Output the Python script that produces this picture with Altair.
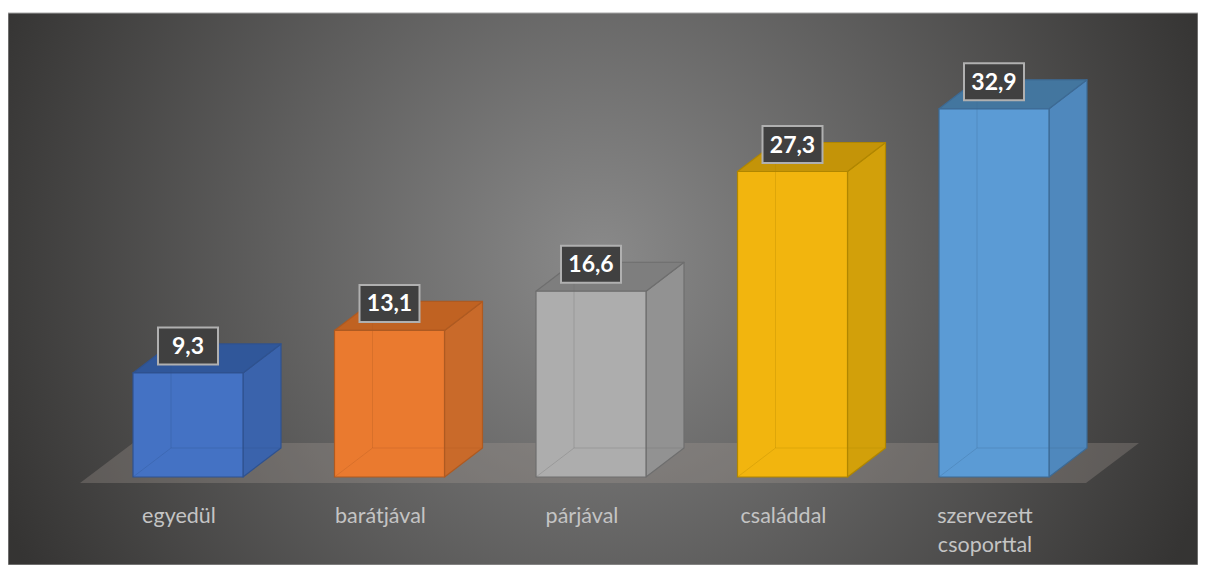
import altair as alt
import pandas as pd

# ---------------- data ----------------
categories = ["egyedül", "barátjával", "párjával", "családdal", "szervezett csoporttal"]
tick_labels = ["egyedül", "barátjával", "párjával", "családdal", "szervezett\ncsoporttal"]
values = [9.3, 13.1, 16.6, 27.3, 32.9]
value_labels = ["9,3", "13,1", "16,6", "27,3", "32,9"]

# ---------------- styles ----------------
front_colors = ["#4472c4", "#ea7a2f", "#adadad", "#f2b50e", "#5b9bd5"]
side_colors = ["#3a63ac", "#c96a2a", "#929292", "#d2a00a", "#4f88bd"]
top_colors = ["#30579a", "#c06222", "#7e7e7e", "#c49408", "#43769f"]
edge_colors = ["#2f528f", "#ae5a21", "#6e6e6e", "#b08600", "#3d6a94"]

W, H = 1190, 552
PX_CAT = 201.5   # pixels per category step
PX_VAL = 11.19   # pixels per value unit
X0_PX = 180.0    # first category centre inside the plot
Y0_PX = 464.0    # value 0 inside the plot

x_dom = [-X0_PX / PX_CAT, (W - X0_PX) / PX_CAT]
y_dom = [-(H - Y0_PX) / PX_VAL, Y0_PX / PX_VAL]
xs = alt.Scale(domain=x_dom, nice=False, zero=False)
ys = alt.Scale(domain=y_dom, nice=False, zero=False)

hw = 55 / PX_CAT
ddx = 38 / PX_CAT
ddy = 29 / PX_VAL
n = len(categories)

def cscale(rng):
    return alt.Scale(domain=categories, range=rng)

# front faces
front = pd.DataFrame({
    "cat": categories,
    "x0": [i - hw for i in range(n)],
    "x1": [i + hw for i in range(n)],
    "y0": [0.0] * n,
    "y1": values,
})

# side faces
side_rows = []
for i, (c, v) in enumerate(zip(categories, values)):
    side_rows.append({"cat": c, "x": i + hw, "lo": 0.0, "hi": v})
    side_rows.append({"cat": c, "x": i + hw + ddx, "lo": ddy, "hi": v + ddy})
side = pd.DataFrame(side_rows)

# top faces
top_rows = []
for i, (c, v) in enumerate(zip(categories, values)):
    top_rows.append({"cat": c, "y": v, "xl": i - hw, "xr": i + hw})
    top_rows.append({"cat": c, "y": v + ddy, "xl": i - hw + ddx, "xr": i + hw + ddx})
top = pd.DataFrame(top_rows)

# hidden back edges (seen through the translucent bars)
edge_rows = []
for i, (c, v) in enumerate(zip(categories, values)):
    bx = i - hw + ddx
    edge_rows.append({"cat": c, "x": bx, "y": ddy, "x2": bx, "y2": v + ddy})
    edge_rows.append({"cat": c, "x": bx, "y": ddy, "x2": i + hw + ddx, "y2": ddy})
    edge_rows.append({"cat": c, "x": i - hw, "y": 0.0, "x2": bx, "y2": ddy})
edges = pd.DataFrame(edge_rows)

# floor
f_front_y = -6 / PX_VAL
f_back_y = 34 / PX_VAL
f_left = -108 / PX_CAT
f_right = (n - 1) + 92 / PX_CAT
f_depth = 53 / PX_CAT
floor = pd.DataFrame({
    "y": [f_front_y, f_back_y],
    "xl": [f_left, f_left + f_depth],
    "xr": [f_right, f_right + f_depth],
})

# labels
lab_dx = -9 / PX_CAT
lab_y = -46 / PX_VAL
cat_labels = pd.DataFrame({
    "x": [i + lab_dx for i in range(n)],
    "y": [lab_y] * n,
    "t": tick_labels,
})

box_off = 27 / PX_VAL
box_hw = 30 / PX_CAT
box_hh = 18.5 / PX_VAL
boxes = pd.DataFrame({
    "x": list(range(n)),
    "x0": [i - box_hw for i in range(n)],
    "x1": [i + box_hw for i in range(n)],
    "yc": [v + box_off for v in values],
    "y0": [v + box_off - box_hh for v in values],
    "y1": [v + box_off + box_hh for v in values],
    "sx0": [i - box_hw + 3 / PX_CAT for i in range(n)],
    "sx1": [i + box_hw - 3 / PX_CAT for i in range(n)],
    "sy0": [v + box_off - box_hh - 8 / PX_VAL for v in values],
    "sy1": [v + box_off for v in values],
    "t": value_labels,
})

# ---------------- layers ----------------
bg = alt.Chart(pd.DataFrame({"a": [0]})).mark_rect(
    fill=alt.RadialGradient(
        gradient="radial",
        x1=0.497, y1=0.476, r1=0.0,
        x2=0.497, y2=0.476, r2=0.545,
        stops=[alt.GradientStop(offset=0, color="#8a8a8a"),
               alt.GradientStop(offset=1, color="#353433")],
    ),
    stroke="#a6a6a6", strokeWidth=1,
).encode(x=alt.value(0), x2=alt.value(W), y=alt.value(0), y2=alt.value(H))

floor_l = alt.Chart(floor).mark_area(orient="horizontal", color="#a59d96", opacity=0.3).encode(
    y=alt.Y("y:Q", scale=ys, axis=None),
    x=alt.X("xl:Q", scale=xs, axis=None),
    x2="xr:Q",
)

side_l = alt.Chart(side).mark_area(opacity=1, strokeWidth=1.2, strokeJoin="round").encode(
    x=alt.X("x:Q", scale=xs, axis=None),
    y=alt.Y("lo:Q", scale=ys, axis=None),
    y2="hi:Q",
    detail="cat:N",
    fill=alt.Fill("cat:N", scale=cscale(side_colors), legend=None),
    stroke=alt.Stroke("cat:N", scale=cscale(edge_colors), legend=None),
)

top_l = alt.Chart(top).mark_area(orient="horizontal", opacity=1, strokeWidth=1.2, strokeJoin="round").encode(
    y=alt.Y("y:Q", scale=ys, axis=None),
    x=alt.X("xl:Q", scale=xs, axis=None),
    x2="xr:Q",
    detail="cat:N",
    fill=alt.Fill("cat:N", scale=cscale(top_colors), legend=None),
    stroke=alt.Stroke("cat:N", scale=cscale(edge_colors), legend=None),
)

front_l = alt.Chart(front).mark_rect(opacity=1, strokeWidth=1.2).encode(
    x=alt.X("x0:Q", scale=xs, axis=None),
    x2="x1:Q",
    y=alt.Y("y0:Q", scale=ys, axis=None),
    y2="y1:Q",
    fill=alt.Fill("cat:N", scale=cscale(front_colors), legend=None),
    stroke=alt.Stroke("cat:N", scale=cscale(edge_colors), legend=None),
)

edge_l = alt.Chart(edges).mark_rule(strokeWidth=1, opacity=0.3).encode(
    x=alt.X("x:Q", scale=xs, axis=None),
    y=alt.Y("y:Q", scale=ys, axis=None),
    x2="x2:Q",
    y2="y2:Q",
    color=alt.Color("cat:N", scale=cscale(edge_colors), legend=None),
)

shadow_l = alt.Chart(boxes).mark_rect(color="#000000", opacity=0.18, cornerRadius=4).encode(
    x=alt.X("sx0:Q", scale=xs, axis=None),
    x2="sx1:Q",
    y=alt.Y("sy0:Q", scale=ys, axis=None),
    y2="sy1:Q",
)

box_l = alt.Chart(boxes).mark_rect(fill="#404040", stroke="#b0b0b0", strokeWidth=2).encode(
    x=alt.X("x0:Q", scale=xs, axis=None),
    x2="x1:Q",
    y=alt.Y("y0:Q", scale=ys, axis=None),
    y2="y1:Q",
)

val_l = alt.Chart(boxes).mark_text(
    font="Lato", fontSize=23, fontWeight="bold", color="#ffffff", baseline="middle", align="center", dy=1
).encode(
    x=alt.X("x:Q", scale=xs, axis=None),
    y=alt.Y("yc:Q", scale=ys, axis=None),
    text="t:N",
)

cat_l = alt.Chart(cat_labels).mark_text(
    font="Lato", fontSize=21.5, color="#c4c4c4", baseline="alphabetic", align="center",
    lineBreak="\n", lineHeight=29,
).encode(
    x=alt.X("x:Q", scale=xs, axis=None),
    y=alt.Y("y:Q", scale=ys, axis=None),
    text="t:N",
)

chart = alt.layer(
    bg, floor_l, shadow_l, side_l, top_l, front_l, edge_l, box_l, val_l, cat_l
).resolve_scale(
    fill="independent", stroke="independent", color="independent"
).properties(
    width=W, height=H,
    autosize=alt.AutoSizeParams(type="none"),
    padding={"left": 0, "top": 5, "right": 0, "bottom": 0},
    background="#ffffff",
).configure_view(stroke=None)

chart.save("out.html", embed_options={"renderer": "svg", "actions": False})
